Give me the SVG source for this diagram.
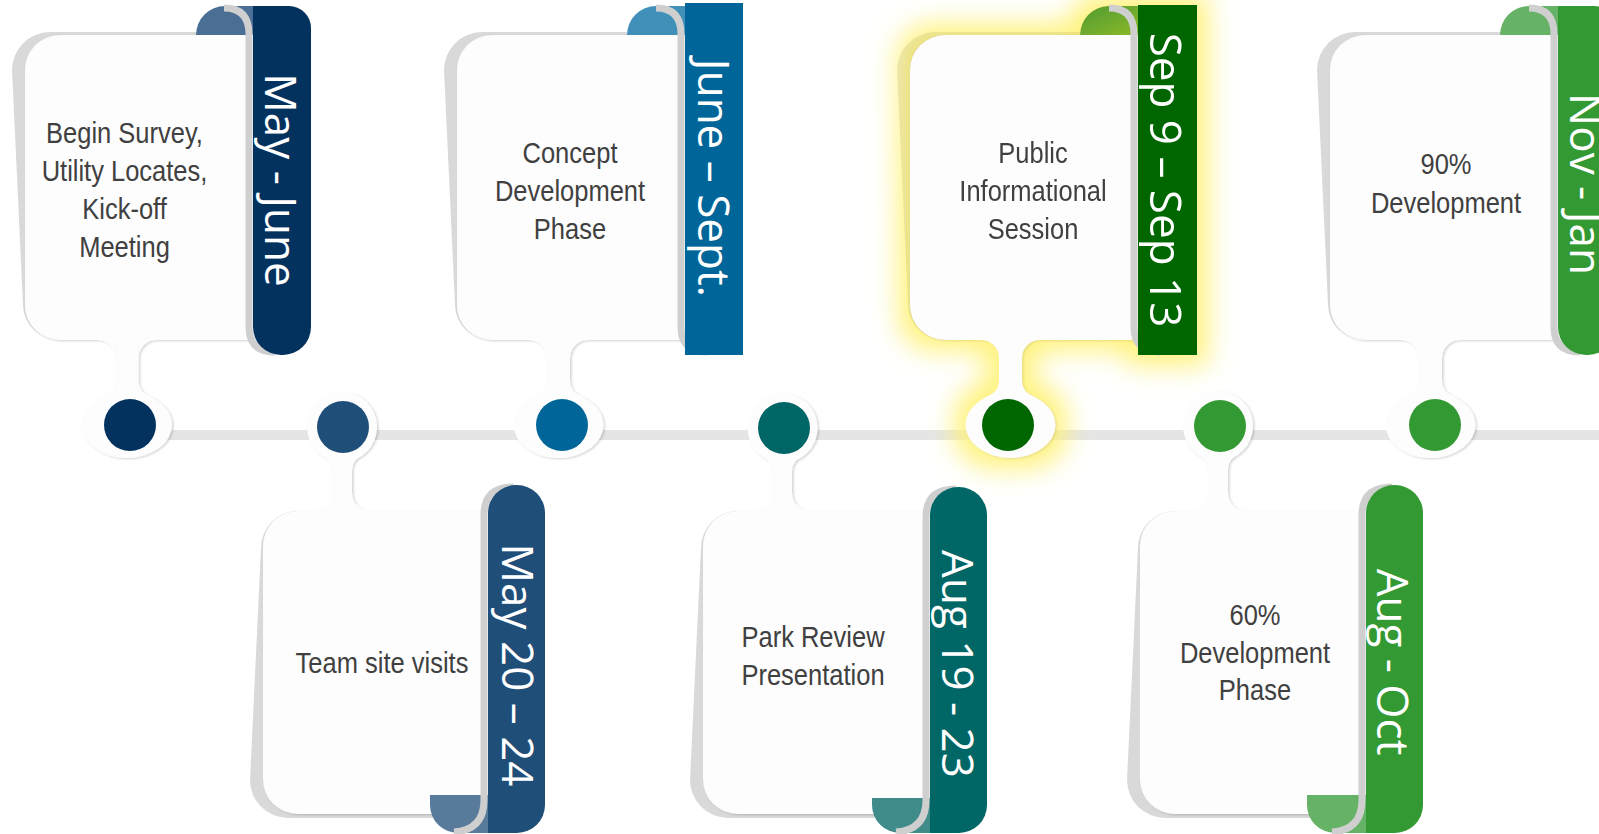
<svg xmlns="http://www.w3.org/2000/svg" width="1599" height="834" viewBox="0 0 1599 834">
<defs>
<style>
.bg{fill:#ffffff}
.shadow{fill:#000;fill-opacity:0.15}
.front{fill:#fdfdfd}
.band{fill:none;stroke:#cfcfcf;stroke-width:7}
.body{font-family:"Liberation Sans",Arial,sans-serif;font-size:30px;fill:#404040;text-anchor:middle}
.date{font-family:"Open Sans","DejaVu Sans",sans-serif;font-size:44px;fill:#ffffff;text-anchor:middle}
.line{fill:#e5e5e5}
</style>
<filter id="edge" x="-10%" y="-10%" width="125%" height="125%">
<feDropShadow dx="1.5" dy="1" stdDeviation="1" flood-color="#000" flood-opacity="0.18"/>
</filter>
<filter id="glow" x="-30%" y="-20%" width="160%" height="140%">
<feMorphology in="SourceAlpha" operator="dilate" radius="11" result="d"/>
<feGaussianBlur in="d" stdDeviation="13" result="b"/>
<feFlood flood-color="#FFF170" flood-opacity="0.9"/>
<feComposite in2="b" operator="in" result="g"/>
<feMerge><feMergeNode in="g"/><feMergeNode in="SourceGraphic"/></feMerge>
</filter>
<linearGradient id="curl5" x1="0" y1="0" x2="1" y2="1">
<stop offset="0" stop-color="#4f9a30"/>
<stop offset="1" stop-color="#8db92a"/>
</linearGradient>
</defs>
<rect class="bg" x="0" y="0" width="1599" height="834"/>

<g id="connectors">
<rect class="line" x="125" y="430" width="1474" height="10"/>
</g>

<!-- Card 1 -->
<g id="card1">
<path class="shadow" d="M 12,70 A 38 38 0 0 1 50,32 H 259 V 340 H 60 A 37 35 0 0 1 23,305 Z"/>
<g filter="url(#edge)">
<path class="front" d="M 25,70 A 35 35 0 0 1 60,35 H 259 V 340 H 60 A 35 35 0 0 1 25,305 Z"/>
<rect class="front" x="115.5" y="338" width="23" height="90"/>
<path class="front" d="M 97.5,340 L 115.5,340 L 115.5,358 A 18 18 0 0 0 97.5,340 Z M 138.5,340 L 156.5,340 A 18 18 0 0 0 138.5,358 Z"/>
<ellipse class="front" cx="127" cy="425" rx="45" ry="33"/>
<path class="front" d="M 115.5,381 Q 115.5,392 103,397 L 115.5,402 Z M 138.5,381 Q 138.5,392 151,397 L 138.5,402 Z"/>
</g>
<circle cx="130" cy="425" r="26" fill="#04325F"/>
<path d="M 196,35 A 29 29 0 0 1 225,6 H 254 V 35 Z" fill="#4B6E95"/>
<path class="band" d="M 224,8 Q 249,8 249,34 V 327 Q 249,352 275,352"/>
<path d="M 253,6 H 289 A 22 22 0 0 1 311,28 V 327 A 28 28 0 0 1 283,355 H 281 A 28 28 0 0 1 253,327 Z" fill="#04325F"/>
<text class="date" transform="translate(265,180) rotate(90)">May - June</text>
<g transform="translate(124.5,0) scale(0.85,1)">
<text class="body" x="0" y="143">Begin Survey,</text>
<text class="body" x="0" y="181.5">Utility Locates,</text>
<text class="body" x="0" y="219.5">Kick-off</text>
<text class="body" x="0" y="257.5">Meeting</text>
</g>
</g>

<!-- Card 2 -->
<g id="card2">
<path class="shadow" d="M 261,548 A 37 37 0 0 1 298,511 H 494 V 818 H 288 A 38 38 0 0 1 250,780 Z"/>
<g filter="url(#edge)">
<path class="front" d="M 263,546 A 35 35 0 0 1 298,511 H 494 V 814 H 298 A 35 35 0 0 1 263,779 Z"/>
<rect class="front" x="332" y="430" width="20" height="83"/>
<path class="front" d="M 314,511 L 332,511 L 332,493 A 18 18 0 0 1 314,511 Z M 352,511 L 370,511 A 18 18 0 0 1 352,493 Z"/>
<circle class="front" cx="342" cy="427" r="35"/>
<path class="front" d="M 332,470 Q 332,460 320,454 L 332,452 Z M 352,470 Q 352,460 364,454 L 352,452 Z"/>
</g>
<circle cx="343" cy="427" r="26" fill="#1F4E79"/>
<path d="M 430,795 V 805 A 28 28 0 0 0 458,833 H 489 V 795 Z" fill="#587B9C"/>
<path class="band" d="M 514,487 Q 484,487 484,515 V 800 Q 484,830 454,832"/>
<path d="M 488,513 A 28 28 0 0 1 516,485 H 517 A 28 28 0 0 1 545,513 V 805 A 28 28 0 0 1 517,833 H 488 Z" fill="#1F4E79"/>
<text class="date" transform="translate(502,665) rotate(90)">May 20 – 24</text>
<g transform="translate(382,0) scale(0.85,1)">
<text class="body" x="0" y="673">Team site visits</text>
</g>
</g>

<!-- Card 3 -->
<g id="card3">
<path class="shadow" d="M 444,70 A 38 38 0 0 1 482,32 H 691 V 340 H 492 A 37 35 0 0 1 455,305 Z"/>
<g filter="url(#edge)">
<path class="front" d="M 457,70 A 35 35 0 0 1 492,35 H 691 V 340 H 492 A 35 35 0 0 1 457,305 Z"/>
<rect class="front" x="547" y="338" width="23" height="90"/>
<path class="front" d="M 529,340 L 547,340 L 547,358 A 18 18 0 0 0 529,340 Z M 570,340 L 588,340 A 18 18 0 0 0 570,358 Z"/>
<ellipse class="front" cx="558.5" cy="425" rx="45" ry="33"/>
<path class="front" d="M 547,381 Q 547,392 534.5,397 L 547,402 Z M 570,381 Q 570,392 582.5,397 L 570,402 Z"/>
</g>
<circle cx="562" cy="425" r="26" fill="#006699"/>
<path d="M 627,35 A 29 29 0 0 1 656,6 H 686 V 35 Z" fill="#4190BA"/>
<path class="band" d="M 656,8 Q 681,8 681,34 V 327 Q 681,352 707,352"/>
<rect x="685" y="3" width="58" height="352" fill="#006699"/>
<text class="date" transform="translate(698,178) rotate(90)">June – Sept.</text>
<g transform="translate(570,0) scale(0.85,1)">
<text class="body" x="0" y="163">Concept</text>
<text class="body" x="0" y="201.5">Development</text>
<text class="body" x="0" y="239.5">Phase</text>
</g>
</g>

<!-- Card 4 -->
<g id="card4">
<path class="shadow" d="M 701,548 A 37 37 0 0 1 738,511 H 936 V 818 H 728 A 38 38 0 0 1 690,780 Z"/>
<g filter="url(#edge)">
<path class="front" d="M 703,546 A 35 35 0 0 1 738,511 H 936 V 814 H 738 A 35 35 0 0 1 703,779 Z"/>
<rect class="front" x="772" y="430" width="20" height="83"/>
<path class="front" d="M 754,511 L 772,511 L 772,493 A 18 18 0 0 1 754,511 Z M 792,511 L 810,511 A 18 18 0 0 1 792,493 Z"/>
<circle class="front" cx="782.5" cy="428" r="35"/>
<path class="front" d="M 772,471 Q 772,461 760,455 L 772,453 Z M 792,471 Q 792,461 804,455 L 792,453 Z"/>
</g>
<circle cx="784" cy="428" r="26" fill="#006666"/>
<path d="M 872,798 V 805 A 28 28 0 0 0 900,833 H 931 V 798 Z" fill="#408C8B"/>
<path class="band" d="M 956,489 Q 926,489 926,517 V 800 Q 926,830 896,832"/>
<path d="M 930,515 A 28 28 0 0 1 958,487 H 959 A 28 28 0 0 1 987,515 V 805 A 28 28 0 0 1 959,833 H 930 Z" fill="#006666"/>
<text class="date" transform="translate(942,664) rotate(90)">Aug 19 - 23</text>
<g transform="translate(813,0) scale(0.85,1)">
<text class="body" x="0" y="647">Park Review</text>
<text class="body" x="0" y="685">Presentation</text>
</g>
</g>

<!-- Card 5 (highlighted) -->
<g id="card5" filter="url(#glow)">
<path class="shadow" d="M 897,70 A 38 38 0 0 1 935,32 H 1144 V 340 H 945 A 37 35 0 0 1 908,305 Z"/>
<g filter="url(#edge)">
<path class="front" d="M 910,70 A 35 35 0 0 1 945,35 H 1144 V 340 H 945 A 35 35 0 0 1 910,305 Z"/>
<rect class="front" x="999" y="338" width="23" height="90"/>
<path class="front" d="M 981,340 L 999,340 L 999,358 A 18 18 0 0 0 981,340 Z M 1022,340 L 1040,340 A 18 18 0 0 0 1022,358 Z"/>
<ellipse class="front" cx="1010.5" cy="425" rx="45" ry="33"/>
<path class="front" d="M 999,381 Q 999,392 986.5,397 L 999,402 Z M 1022,381 Q 1022,392 1034.5,397 L 1022,402 Z"/>
</g>
<circle cx="1008" cy="425" r="26" fill="#006600"/>
<path d="M 1080,35 A 29 29 0 0 1 1109,6 H 1139 V 35 Z" fill="url(#curl5)"/>
<path class="band" d="M 1109,8 Q 1134,8 1134,34 V 327 Q 1134,352 1160,352"/>
<rect x="1138" y="5" width="59" height="350" fill="#006600"/>
<text class="date" transform="translate(1150,180) rotate(90)">Sep 9 – Sep 13</text>
<g transform="translate(1033,0) scale(0.85,1)">
<text class="body" x="0" y="163">Public</text>
<text class="body" x="0" y="201">Informational</text>
<text class="body" x="0" y="239">Session</text>
</g>
</g>

<!-- Card 6 -->
<g id="card6">
<path class="shadow" d="M 1138,548 A 37 37 0 0 1 1175,511 H 1372 V 818 H 1165 A 38 38 0 0 1 1127,780 Z"/>
<g filter="url(#edge)">
<path class="front" d="M 1140,546 A 35 35 0 0 1 1175,511 H 1372 V 814 H 1175 A 35 35 0 0 1 1140,779 Z"/>
<rect class="front" x="1208" y="430" width="20" height="83"/>
<path class="front" d="M 1190,511 L 1208,511 L 1208,493 A 18 18 0 0 1 1190,511 Z M 1228,511 L 1246,511 A 18 18 0 0 1 1228,493 Z"/>
<circle class="front" cx="1218" cy="426" r="35"/>
<path class="front" d="M 1208,469 Q 1208,459 1196,453 L 1208,451 Z M 1228,469 Q 1228,459 1240,453 L 1228,451 Z"/>
</g>
<circle cx="1220" cy="426" r="26" fill="#339933"/>
<path d="M 1307,795 V 805 A 28 28 0 0 0 1335,833 H 1367 V 795 Z" fill="#66B266"/>
<path class="band" d="M 1392,487 Q 1362,487 1362,515 V 800 Q 1362,830 1332,832"/>
<path d="M 1366,513 A 28 28 0 0 1 1394,485 H 1395 A 28 28 0 0 1 1423,513 V 805 A 28 28 0 0 1 1395,833 H 1366 Z" fill="#339933"/>
<text class="date" transform="translate(1377,662) rotate(90)">Aug - Oct</text>
<g transform="translate(1255,0) scale(0.85,1)">
<text class="body" x="0" y="625">60%</text>
<text class="body" x="0" y="662.7">Development</text>
<text class="body" x="0" y="700">Phase</text>
</g>
</g>

<!-- Card 7 -->
<g id="card7">
<path class="shadow" d="M 1317,70 A 38 38 0 0 1 1355,32 H 1564 V 340 H 1365 A 37 35 0 0 1 1328,305 Z"/>
<g filter="url(#edge)">
<path class="front" d="M 1330,70 A 35 35 0 0 1 1365,35 H 1564 V 340 H 1365 A 35 35 0 0 1 1330,305 Z"/>
<rect class="front" x="1419" y="338" width="23" height="90"/>
<path class="front" d="M 1401,340 L 1419,340 L 1419,358 A 18 18 0 0 0 1401,340 Z M 1442,340 L 1460,340 A 18 18 0 0 0 1442,358 Z"/>
<ellipse class="front" cx="1430.5" cy="425" rx="45" ry="33"/>
<path class="front" d="M 1419,381 Q 1419,392 1406.5,397 L 1419,402 Z M 1442,381 Q 1442,392 1454.5,397 L 1442,402 Z"/>
</g>
<circle cx="1435" cy="425" r="26" fill="#339933"/>
<path d="M 1500,35 A 29 29 0 0 1 1529,6 H 1559 V 35 Z" fill="#66B266"/>
<path class="band" d="M 1529,8 Q 1554,8 1554,34 V 327 Q 1554,352 1580,352"/>
<path d="M 1558,6 H 1594 A 22 22 0 0 1 1616,28 V 327 A 28 28 0 0 1 1588,355 H 1586 A 28 28 0 0 1 1558,327 Z" fill="#339933"/>
<text class="date" transform="translate(1570,184) rotate(90)">Nov - Jan</text>
<g transform="translate(1446,0) scale(0.85,1)">
<text class="body" x="0" y="174">90%</text>
<text class="body" x="0" y="212.7">Development</text>
</g>
</g>
</svg>
